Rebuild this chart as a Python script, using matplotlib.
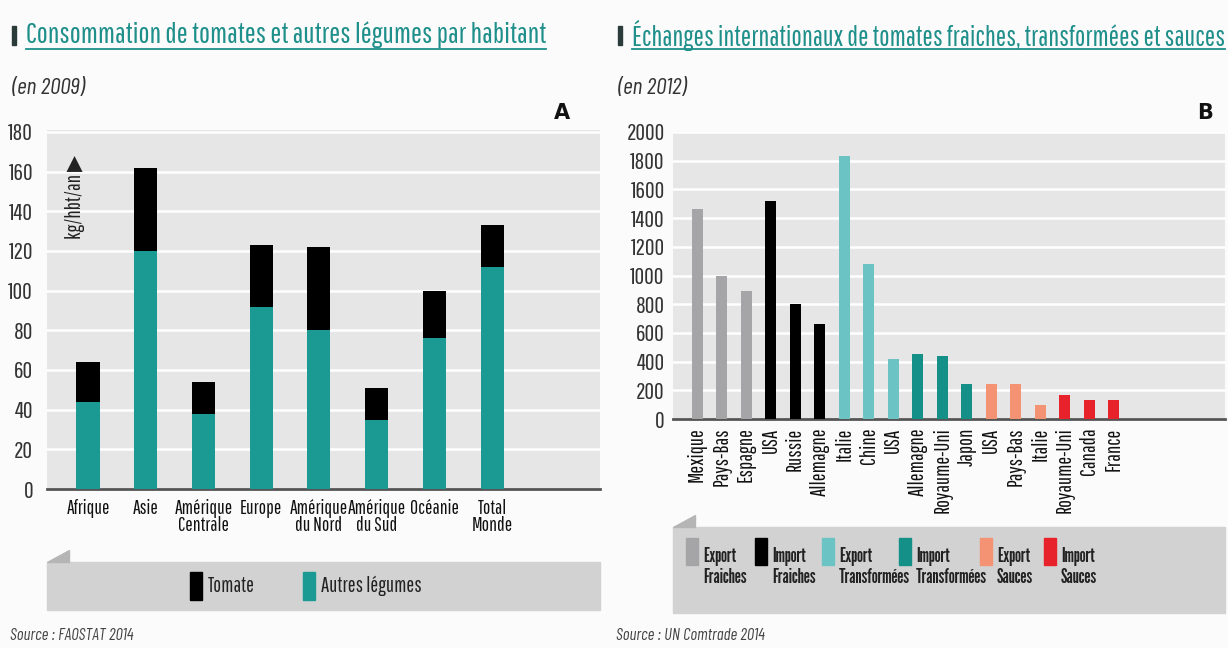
import matplotlib
matplotlib.use('Agg')
import matplotlib.pyplot as plt
from matplotlib.patches import Rectangle, Polygon
from matplotlib.lines import Line2D

plt.rcParams['font.family'] = ['Pathway Gothic One', 'Barlow Condensed', 'DejaVu Sans']
ITAL = ['Barlow Condensed', 'DejaVu Sans']
NARROW = ['League Gothic', 'Pathway Gothic One', 'DejaVu Sans']

# Panel A data (kg/hbt/an, 2009)
regions = ['Afrique', 'Asie', 'Amérique\nCentrale', 'Europe', 'Amérique\ndu Nord',
           'Amérique\ndu Sud', 'Océanie', 'Total\nMonde']
autres = [44, 120, 38, 92, 80, 35, 76, 112]
tomate = [20, 42, 16, 31, 42, 16, 24, 21]

# Panel B data (2012)
pays = ['Mexique', 'Pays-Bas', 'Espagne', 'USA', 'Russie', 'Allemagne', 'Italie', 'Chine',
        'USA', 'Allemagne', 'Royaume-Uni', 'Japon', 'USA', 'Pays-Bas', 'Italie',
        'Royaume-Uni', 'Canada', 'France']
echanges = [1460, 1000, 890, 1520, 800, 665, 1830, 1080, 420, 455, 440, 245, 247, 247, 95,
            170, 135, 135]
groupes = [0, 0, 0, 1, 1, 1, 2, 2, 2, 3, 3, 3, 4, 4, 4, 5, 5, 5]
groupe_labels = ['Export\nFraiches', 'Import\nFraiches', 'Export\nTransformées',
                 'Import\nTransformées', 'Export\nSauces', 'Import\nSauces']

teal = '#1a9a93'
grp_colors = ['#a5a5a7', '#000000', '#6cc3c4', '#149088', '#f49373', '#e8222b']
title_col = '#1e8f8a'
bg = '#e6e6e6'
band = '#d2d2d2'

W, H = 1228, 648
fig = plt.figure(figsize=(W / 100, H / 100), dpi=100)
fig.patch.set_facecolor('#fbfbfb')
renderer = fig.canvas.get_renderer()


def fx(px):
    return px / W


def fy(py):
    return 1 - py / H


def style_axes(ax):
    ax.set_facecolor(bg)
    for s in ['top', 'right', 'left']:
        ax.spines[s].set_visible(False)
    ax.spines['bottom'].set_color('#555555')
    ax.spines['bottom'].set_linewidth(2)
    ax.yaxis.grid(True, color='white', linewidth=1.8)
    ax.set_axisbelow(True)
    ax.tick_params(axis='both', length=0, labelsize=17, colors='#333333')


# ---- Panel A ----
axA = fig.add_axes([fx(47), fy(489), fx(600 - 47), (489 - 130) / H])
style_axes(axA)
xa = list(range(len(regions)))
axA.bar(xa, autres, width=0.4, color=teal, zorder=3)
axA.bar(xa, tomate, width=0.4, bottom=autres, color='black', zorder=3)
axA.set_xlim(-0.71, 8.87)
axA.set_ylim(0, 181)
axA.set_yticks(range(0, 181, 20))
axA.set_xticks(xa)
axA.set_xticklabels(regions, fontsize=14, linespacing=0.9, color='#111111')
axA.tick_params(axis='y', pad=10)
axA.tick_params(axis='x', pad=7)
axA.text(0.05, 0.93, 'kg/hbt/an ▶', transform=axA.transAxes, rotation=90,
         ha='center', va='top', fontsize=15, color='#222222')

# ---- Panel B ----
axB = fig.add_axes([fx(673), fy(419), fx(1225 - 673), (419 - 132) / H])
style_axes(axB)
xb = list(range(len(pays)))
axB.bar(xb, echanges, width=0.45, color=[grp_colors[g] for g in groupes], zorder=3)
axB.set_xlim(-0.98, 21.53)
axB.set_ylim(0, 2000)
axB.set_yticks(range(0, 2001, 200))
axB.set_xticks(xb)
axB.set_xticklabels(pays, rotation=90, fontsize=15, va='top', color='#111111')
axB.tick_params(axis='y', pad=6)
axB.tick_params(axis='x', pad=6)


def header(x, title, width, sub, letter, lx, src):
    fig.add_artist(Rectangle((fx(x), fy(45)), fx(4), 19 / H, color='#2a3b3a',
                             transform=fig.transFigure))
    t = fig.text(fx(x + 14), fy(35), title, fontsize=20, color=title_col, va='center')
    bb = t.get_window_extent(renderer)
    t.set_fontsize(20 * width / bb.width)
    bb = t.get_window_extent(renderer)
    fig.add_artist(Line2D([bb.x0 / W, bb.x1 / W], [fy(49), fy(49)], color=title_col,
                          linewidth=1.3, transform=fig.transFigure))
    fig.text(fx(x), fy(88), sub, fontsize=17, style='italic', color='#333333', va='center',
             family=ITAL)
    fig.text(fx(lx), fy(113), letter, fontsize=15, fontweight='bold', color='#111111',
             va='center', ha='center', family=['DejaVu Sans'])
    fig.text(fx(x - 2), fy(636), src, fontsize=12, style='italic', color='#444444',
             va='center', family=ITAL)


header(12, 'Consommation de tomates et autres légumes par habitant', 518, '(en 2009)', 'A',
       562, 'Source : FAOSTAT 2014')
header(618, 'Échanges internationaux de tomates fraiches, transformées et sauces', 590,
       '(en 2012)', 'B', 1205, 'Source : UN Comtrade 2014')


def legend_band(x0, x1, y0, y1):
    fig.add_artist(Rectangle((fx(x0), fy(y1)), fx(x1 - x0), (y1 - y0) / H, color=band,
                             transform=fig.transFigure, zorder=0))
    fig.add_artist(Polygon([(fx(x0), fy(y0)), (fx(x0 + 22), fy(y0)), (fx(x0 + 22), fy(y0 - 12))],
                           closed=True, color='#b5b5b5', transform=fig.transFigure))


def swatch(x, y0, y1, col):
    fig.add_artist(Rectangle((fx(x), fy(y1)), fx(12), (y1 - y0) / H, color=col,
                             transform=fig.transFigure))


# legend A
legend_band(47, 600, 562, 610)
swatch(190, 572, 600, 'black')
fig.text(fx(208), fy(586), 'Tomate', fontsize=15, va='center', color='#222222')
swatch(303, 572, 600, teal)
fig.text(fx(321), fy(586), 'Autres légumes', fontsize=15, va='center', color='#222222')

# legend B
legend_band(673, 1225, 527, 613)
leg_x = [686, 755, 822, 899, 980, 1044]
for g, (lx, lab) in enumerate(zip(leg_x, groupe_labels)):
    swatch(lx, 538, 565, grp_colors[g])
    fig.text(fx(lx + 17), fy(567), lab, fontsize=14, va='center', color='#222222',
             linespacing=1.15, family=NARROW)

fig.savefig('out.png', dpi=100, facecolor=fig.get_facecolor())
